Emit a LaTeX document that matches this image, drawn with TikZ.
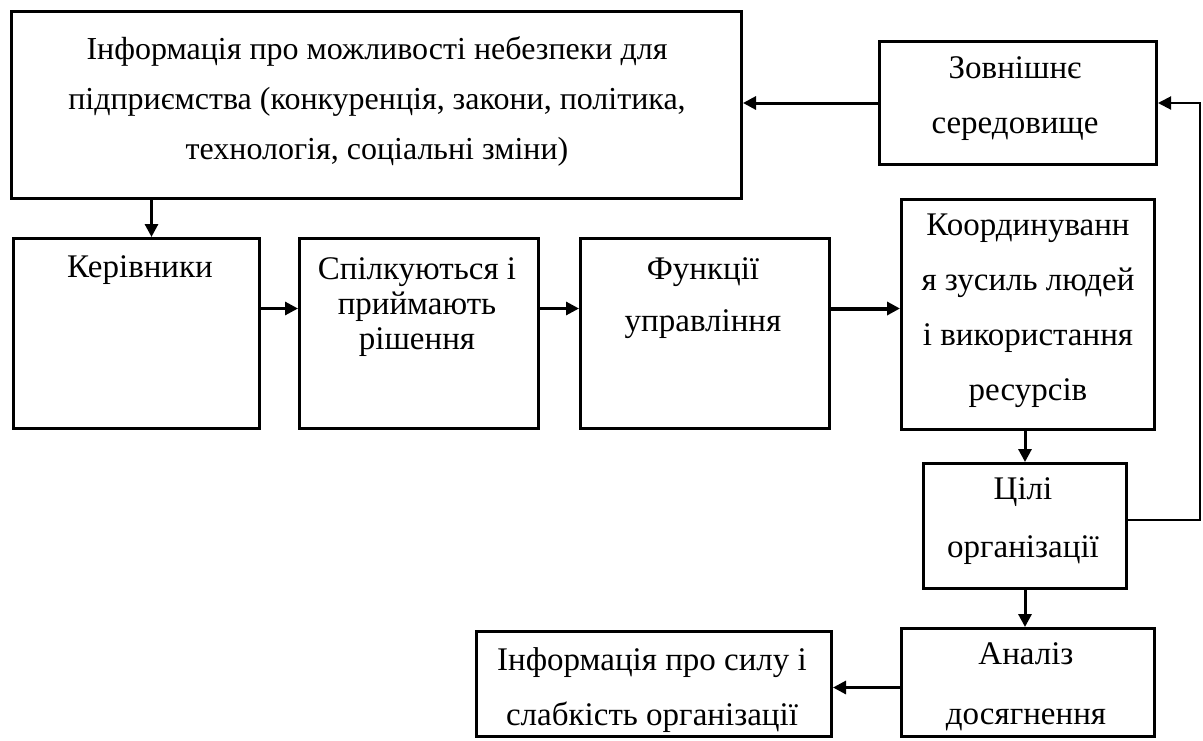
\documentclass[tikz,border=0pt]{standalone}
\usepackage{fontspec}
\setmainfont{Liberation Serif}
\usetikzlibrary{arrows.meta}
\begin{document}
\begin{tikzpicture}[x=1pt,y=-1pt,
  box/.style={draw,line width=3pt,inner sep=0pt,anchor=north west},
  txt/.style={align=center,inner sep=0pt},
  arr/.style={line width=3pt,-{Triangle[length=13pt,width=13pt]}},
  fb/.style={line width=2pt,-{Triangle[length=13pt,width=13pt]}}]
\useasboundingbox (0,0) rectangle (1203,740);
% boxes
\node[box,minimum width=730pt,minimum height=187pt] (info) at (10,10) {};
\node[box,minimum width=277pt,minimum height=123pt] (zovn) at (878,40) {};
\node[box,minimum width=246pt,minimum height=190pt] (ker) at (12,237) {};
\node[box,minimum width=239pt,minimum height=190pt] (spilk) at (298,237) {};
\node[box,minimum width=249pt,minimum height=190pt] (funk) at (579,237) {};
\node[box,minimum width=253pt,minimum height=230pt] (koord) at (900,198) {};
\node[box,minimum width=203pt,minimum height=125pt] (tsili) at (922,462) {};
\node[box,minimum width=253pt,minimum height=108pt] (analiz) at (900,627) {};
\node[box,minimum width=355pt,minimum height=105pt] (infos) at (475,630) {};
% texts
\node[txt,font=\fontsize{32}{50}\selectfont] (tinfo) at (377,101) {Інформація про можливості небезпеки для\\підприємства (конкуренція, закони, політика,\\технологія, соціальні зміни)};
\node[txt,font=\fontsize{33}{55}\selectfont] (tzovn) at (1015,99) {Зовнішнє\\середовище};
\node[txt,font=\fontsize{33}{35}\selectfont] (tker) at (140,270) {Керівники};
\node[txt,font=\fontsize{33}{35}\selectfont] (tspilk) at (417,307) {Спілкуються і\\приймають\\рішення};
\node[txt,font=\fontsize{33}{52}\selectfont] (tfunk) at (703,298) {Функції\\управління};
\node[txt,font=\fontsize{33}{55}\selectfont] (tkoord) at (1028,311) {Координуванн\\я зусиль людей\\і використання\\ресурсів};
\node[txt,font=\fontsize{33}{58}\selectfont] (ttsili) at (1023,521) {Цілі\\організації};
\node[txt,font=\fontsize{33}{60}\selectfont] (tanaliz) at (1026,687) {Аналіз\\досягнення};
\node[txt,font=\fontsize{33}{55}\selectfont] (tinfos) at (652,690) {Інформація про силу і\\слабкість організації};
% connectors
\coordinate (rt) at (1200,520);
\draw[arr] (zovn.west) -- (zovn.west -| info.east);
\draw[arr] ([xshift=15pt]info.south -| ker.north) -- ([xshift=15pt]ker.north);
\draw[arr] ([yshift=25pt]ker.east) -- ([yshift=25pt]ker.east -| spilk.west);
\draw[arr] ([yshift=25pt]spilk.east) -- ([yshift=25pt]spilk.east -| funk.west);
\draw[arr,line width=4pt] ([yshift=25pt]funk.east) -- ([yshift=25pt]funk.east -| koord.west);
\draw[arr] (koord.south -| tsili.north) -- (tsili.north);
\draw[arr] (tsili.south) -- (tsili.south |- analiz.north);
\draw[arr] ([yshift=-5pt]analiz.west) -- ([yshift=-5pt]analiz.west -| infos.east);
\draw[fb] (tsili.east |- rt) -- (rt) |- (zovn.east);
\end{tikzpicture}
\end{document}
